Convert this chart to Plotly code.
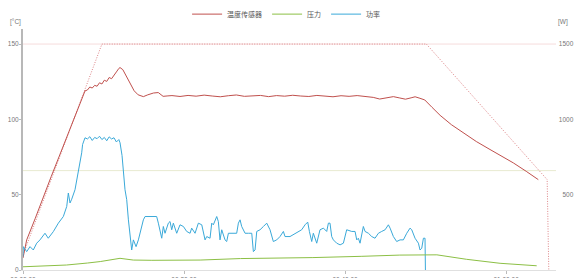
import plotly.graph_objects as go

# ---- data (time in minutes) ----
temp_t = [0, 0.25, 0.46, 1.5, 2.5, 3.5, 4.5, 5.5, 6.5, 7.3, 7.7,
          8.0, 8.3, 8.6, 8.9, 9.2, 9.5, 9.8, 10.1, 10.4, 10.7, 11.0, 11.3, 11.6, 11.9, 12.05,
          12.4, 12.8, 13.3, 13.8, 14.3, 14.95, 15.5, 16.2, 16.8, 17.4, 18.0,
          18.5, 19.5, 20.5, 21.5, 22.5, 23.5, 24.5, 25.5, 26.5, 27.5, 28.5, 29.5, 30.5,
          31.5, 32.5, 33.5, 34.5, 35.5, 36.5, 37.5, 38.5, 39.5, 40.5, 41.5, 42.5, 43.5,
          44.3, 45.2, 46.0, 46.8, 47.5, 48.2, 48.7, 49.3, 49.9,
          50.8, 51.8, 53.2, 54.7, 56.3, 58.0, 59.5, 60.9, 62.5, 64.0]
temp_v = [8, 15, 20, 34, 48.5, 62, 75.5, 89, 102.5, 113.5, 118.9,
          119.5, 121.5, 120.8, 122.6, 122.0, 124.3, 123.5, 126.0, 125.2, 127.8, 127.0, 129.6, 131.5, 133.8, 134.4,
          133.0, 129.0, 123.5, 119.0, 116.3, 115.1, 116.3, 117.5, 117.8, 115.3, 115.6,
          115.8, 115.2, 115.9, 115.4, 116.1, 115.5, 115.0, 115.7, 116.2, 115.3, 115.6, 115.9, 115.1,
          115.8, 115.4, 116.0, 115.5, 115.2, 115.9, 115.6, 115.0, 115.7, 115.3, 115.8, 115.1, 114.6,
          113.5, 114.5, 115.1, 114.2, 113.4, 114.3, 115.0, 114.0, 112.9,
          108.0, 102.7, 96.5, 91.1, 85.3, 80.0, 75.3, 71.1, 65.5, 60.0]

setpoint_t = [0, 9.8, 50.1, 64.6, 65.1, 65.3]
setpoint_v = [10, 150, 150, 63.5, 60, 0]

pressure_t = [0, 2, 5.4, 8, 9.6, 12.05, 13.7, 16, 22, 27, 31, 36, 42, 46.8, 51.4, 55.1, 59.25, 63.8]
pressure_v = [0.13, 0.15, 0.2, 0.28, 0.34, 0.47, 0.40, 0.39, 0.40, 0.46, 0.47, 0.50, 0.55, 0.60, 0.61, 0.43, 0.27, 0.17]

power_t = [0.0, 0.04, 0.46, 0.87, 1.28, 1.70, 2.11, 2.73, 3.14, 3.77, 4.39, 5.01, 5.43, 5.63, 5.84, 6.05,
           6.46, 6.87, 7.29, 7.4, 7.70, 8.0, 8.3, 8.6, 8.9, 9.2, 9.5, 9.8, 10.1, 10.4, 10.7, 11.0,
           11.3, 11.6, 11.9, 12.05, 12.3, 12.67, 12.88, 13.09, 13.5, 13.71, 14.04, 14.33, 14.95,
           15.16, 15.57, 16.6, 16.81, 17.23, 17.43, 17.64, 18.05, 18.26, 18.47, 18.67, 19.09, 19.5,
           19.92, 20.33, 20.75, 20.95, 21.37, 21.78, 22.2, 22.61, 22.82, 23.23, 23.44, 23.64, 24.06,
           24.26, 24.47, 24.68, 25.09, 25.3, 25.51, 26.54, 26.75, 26.96, 27.16, 27.58, 27.99, 28.41,
           28.61, 28.82, 29.03, 29.44, 29.86, 30.27, 30.68, 30.89, 31.09, 31.51, 31.92, 32.34, 32.54,
           33.16, 33.79, 34.2, 34.61, 35.03, 35.36, 35.57, 35.86, 36.06, 36.48, 36.89, 37.31, 37.72,
           37.93, 38.13, 38.34, 38.55, 38.96, 39.38, 39.79, 40.2, 40.83, 41.24, 41.45, 41.65, 41.86,
           42.27, 42.48, 42.9, 43.31, 43.72, 44.14, 44.55, 44.97, 45.38, 45.59, 46.0, 46.41, 46.83,
           47.24, 47.66, 48.07, 48.28, 48.49, 48.69, 49.11, 49.31, 49.52, 49.73, 49.93, 49.98]
power_v = [89, 155, 122, 155, 133, 178, 200, 244, 211, 255, 311, 355, 422, 511, 445, 470,
           533, 644, 778, 833, 878, 870, 885, 860, 880, 872, 888, 866, 880, 858, 884, 870,
           878, 850, 866, 845, 760, 533, 467, 333, 133, 200, 155, 200, 333,
           355, 355, 355, 311, 211, 289, 244, 311, 322, 267, 311, 244, 300,
           289, 256, 244, 278, 244, 311, 300, 200, 222, 211, 311, 300, 355,
           322, 200, 267, 200, 189, 244, 244, 311, 333, 289, 244, 244, 244,
           122, 133, 256, 267, 289, 311, 267, 222, 189, 200, 222, 256, 222,
           222, 244, 256, 267, 300, 318, 256, 189, 244, 178, 267, 278, 256,
           311, 311, 222, 200, 178, 167, 178, 267, 256, 256, 200, 211, 178,
           289, 256, 244, 222, 211, 244, 256, 267, 300, 278, 222, 189, 200,
           200, 244, 278, 267, 244, 211, 178, 133, 144, 211, 211, 0]

x_tickvals = [0, 20, 40, 60]
x_ticktext = ["00:00:00", "00:20:00", "00:40:00", "01:00:00"]
temp_ticks = [0, 50, 100, 150]
power_ticks = [0, 500, 1000, 1500]
pressure_ticks = [0, 2, 4, 6, 8]
temp_limit = 150
pressure_limit = 4

RED = "#c0504d"
GREEN = "#8cbf45"
BLUE = "#3aa9d9"
TICKFONT = dict(family="Liberation Sans", size=6.5, color="#777")

fig = go.Figure()
fig.add_trace(go.Scatter(x=setpoint_t, y=setpoint_v, mode="lines", showlegend=False,
                         line=dict(color="#d9777a", width=0.9, dash="1px,1.5px"), yaxis="y"))
fig.add_trace(go.Scatter(x=temp_t, y=temp_v, mode="lines", name="温度传感器",
                         line=dict(color=RED, width=1), yaxis="y"))
fig.add_trace(go.Scatter(x=pressure_t, y=pressure_v, mode="lines", name="压力",
                         line=dict(color=GREEN, width=1), yaxis="y3"))
fig.add_trace(go.Scatter(x=power_t, y=power_v, mode="lines", name="功率",
                         line=dict(color=BLUE, width=1), yaxis="y2"))

fig.add_shape(type="line", xref="x domain", x0=0, x1=1, yref="y", y0=temp_limit, y1=temp_limit,
              line=dict(color="#f6dcdc", width=1), layer="below")
fig.add_shape(type="line", xref="x domain", x0=0, x1=1, yref="y3", y0=pressure_limit, y1=pressure_limit,
              line=dict(color="#e8ead0", width=1), layer="below")

fig.update_layout(
    width=583, height=278,
    template="none",
    paper_bgcolor="white", plot_bgcolor="white",
    margin=dict(l=15, r=13, t=21, b=16),
    font=dict(family="Liberation Sans", size=7, color="#555"),
    xaxis=dict(domain=[0, 0.9604], range=[0, 66.2], tickvals=x_tickvals, ticktext=x_ticktext,
               ticks="outside", ticklen=3, tickcolor="#bbb", showline=True, linecolor="#e0e0e0",
               linewidth=1, showgrid=False, zeroline=False, tickfont=TICKFONT, automargin=False),
    yaxis=dict(range=[0, 160], tickvals=temp_ticks, ticks="outside", ticklen=2, tickcolor="#bbb",
               showline=True, linecolor="#b8b8b8", linewidth=2, showgrid=False, zeroline=False,
               tickfont=TICKFONT, automargin=False, ticklabelstandoff=-1),
    yaxis2=dict(range=[0, 1600], tickvals=power_ticks, overlaying="y", side="right", anchor="free",
                position=1.0, ticks="inside", ticklen=3, tickcolor="#bbb",
                ticklabelposition="inside", showline=False, showgrid=False, zeroline=False,
                tickfont=TICKFONT, automargin=False),
    yaxis3=dict(range=[0, 9.7], tickvals=pressure_ticks, overlaying="y", side="right", anchor="free",
                position=1.0, ticks="outside", ticklen=1, tickcolor="#bbb",
                showline=True, linecolor="#a8a8a8", linewidth=2, showgrid=False, zeroline=False,
                tickfont=TICKFONT, automargin=False, ticklabelstandoff=-2),
    legend=dict(orientation="h", xref="container", yref="container", x=0.477, y=0.978,
                xanchor="center", yanchor="middle",
                font=dict(family="Noto Sans CJK SC", size=7, color="#555"),
                itemwidth=30, tracegroupgap=0, bgcolor="rgba(0,0,0,0)"),
    annotations=[
        dict(text="[°C]", xref="paper", yref="paper", x=-0.0144, y=1.03, showarrow=False,
             xanchor="center", yanchor="middle", font=TICKFONT),
        dict(text="[W]", xref="paper", yref="paper", x=0.973, y=1.03, showarrow=False,
             xanchor="center", yanchor="middle", font=TICKFONT),
        dict(text="[bar]", xref="paper", yref="paper", x=0.999, y=1.03, showarrow=False,
             xanchor="left", yanchor="middle", font=TICKFONT),
    ],
)

fig.write_html("out.html")
